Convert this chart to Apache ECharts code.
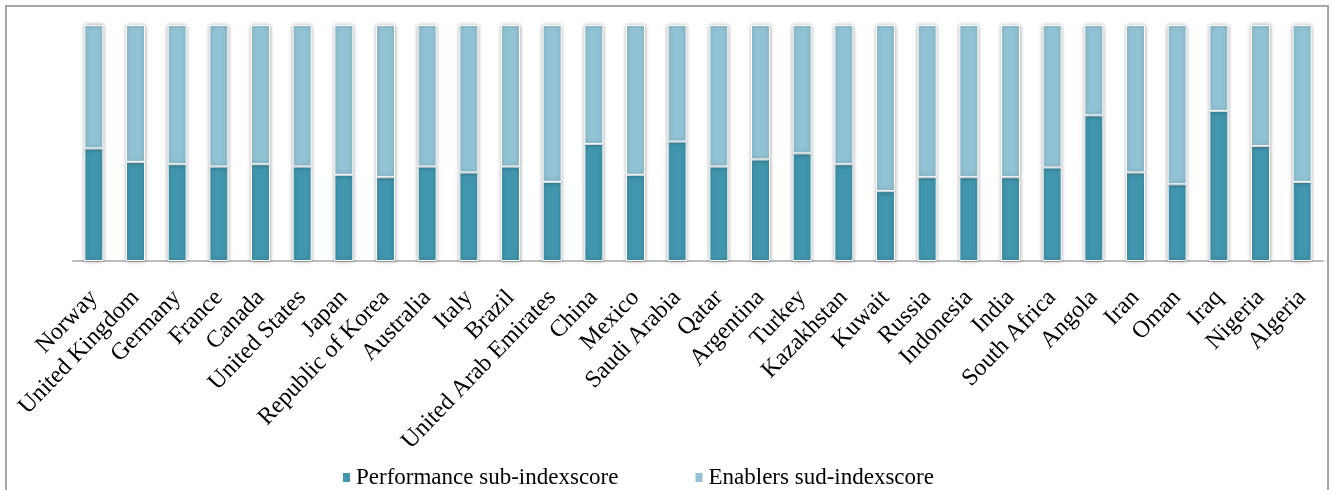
<!DOCTYPE html>
<html>
<head>
<meta charset="utf-8">
<script src="https://cdn.jsdelivr.net/npm/echarts@6/dist/echarts.min.js"></script>
<style>
    html, body { margin: 0; padding: 0; background: #fff; }
    #chart { width: 1332px; height: 490px; }
</style>
</head>
<body>
<div id="chart"></div>
<script>
// countries, in the order they appear on the x axis
var countries = ['Norway', 'United Kingdom', 'Germany', 'France', 'Canada', 'United States',
    'Japan', 'Republic of Korea', 'Australia', 'Italy', 'Brazil', 'United Arab Emirates',
    'China', 'Mexico', 'Saudi Arabia', 'Qatar', 'Argentina', 'Turkey', 'Kazakhstan', 'Kuwait',
    'Russia', 'Indonesia', 'India', 'South Africa', 'Angola', 'Iran', 'Oman', 'Iraq',
    'Nigeria', 'Algeria']

// share of each bar (percent)
var performance = [47.7, 42.0, 41.0, 40.0, 41.0, 40.0, 36.5, 35.5, 40.0, 37.5,
    40.0, 33.5, 49.6, 36.5, 50.6, 40.0, 43.0, 45.6, 41.0, 29.6,
    35.5, 35.5, 35.5, 39.6, 61.7, 37.5, 32.5, 63.6, 48.7, 33.5]
var enablers = [52.3, 58.0, 59.0, 60.0, 59.0, 60.0, 63.5, 64.5, 60.0, 62.5,
    60.0, 66.5, 50.4, 63.5, 49.4, 60.0, 57.0, 54.4, 59.0, 70.4,
    64.5, 64.5, 64.5, 60.4, 38.3, 62.5, 67.5, 36.4, 51.3, 66.5]

var seriesNames = ['Performance sub-indexscore', 'Enablers sud-indexscore']

var font = '"Liberation Serif", "Times New Roman", serif'

var myChart = echarts.init(document.getElementById('chart'))

var barStyle = function (color) {
    return {
        color: color,
        borderColor: '#ffffff',
        borderWidth: 1,
        shadowColor: 'rgba(0,0,0,0.35)',
        shadowBlur: 4
    }
}

myChart.setOption({
    animation: false,
    graphic: [{
        type: 'rect',
        shape: { x: 6, y: 6, width: 1322, height: 500 },
        style: { fill: 'none', stroke: '#a6a6a6', lineWidth: 2 },
        silent: true
    }],
    legend: {
        left: 336,
        top: 461,
        icon: 'rect',
        itemWidth: 9,
        itemHeight: 11,
        itemGap: 75,
        textStyle: {
            fontFamily: font,
            fontSize: 23,
            color: '#000'
        },
        data: seriesNames
    },
    grid: {
        left: 73,
        right: 9,
        top: 25,
        bottom: 229
    },
    xAxis: {
        type: 'category',
        data: countries,
        axisTick: { show: false },
        axisLine: {
            lineStyle: { color: '#bdbdbd', width: 2 }
        },
        axisLabel: {
            interval: 0,
            rotate: 46,
            margin: 33,
            fontFamily: font,
            fontSize: 24,
            color: '#000'
        }
    },
    yAxis: {
        type: 'value',
        min: 0,
        max: 100,
        show: false,
        splitLine: { show: false }
    },
    series: [{
        name: seriesNames[0],
        type: 'bar',
        stack: 'total',
        barWidth: 19,
        itemStyle: barStyle('#4196ae'),
        data: performance
    }, {
        name: seriesNames[1],
        type: 'bar',
        stack: 'total',
        barWidth: 19,
        itemStyle: barStyle('#92c3d4'),
        data: enablers
    }]
})
</script>
</body>
</html>
